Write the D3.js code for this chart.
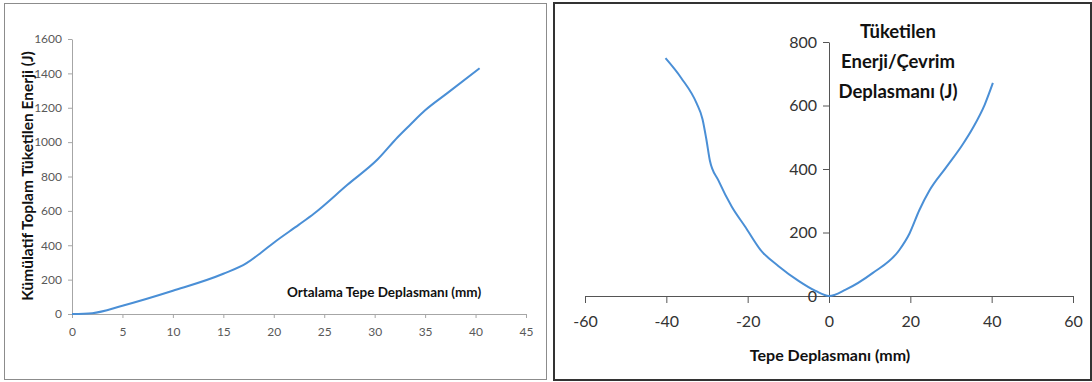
<!DOCTYPE html>
<html>
<head>
<meta charset="utf-8">
<script src="https://cdn.jsdelivr.net/npm/d3@7"></script>
<style>
  body { margin: 0; background: #fff; }
  svg { display: block; }
  text { font-family: Lato, "Open Sans", sans-serif; }
</style>
</head>
<body>
<div id="chart"></div>
<script>
// cumulative dissipated energy vs. average top displacement (left panel)
const avgDisp = [0, 2, 5, 10, 15, 17.3, 18.7, 20, 22.5, 24, 27.3, 30.3, 32.3, 33.5, 35, 37.2, 40.4];
const cumEnergy = [0, 5, 48, 135, 234, 296, 355, 415, 520, 585, 752, 900, 1030, 1100, 1185, 1285, 1430];

// energy per cycle vs. top displacement (right panel)
const topDisp = [-40.2, -36.3, -32.6, -31.1, -30.1, -29.3, -27.2, -23.9, -20.6, -16.9, -12.4, -7.4, -3.3, 0,
  4.1, 10.7, 17.3, 19.8, 22.2, 24.7, 28.8, 32.9, 35.4, 38.3, 40.3];
const cycleEnergy = [749, 686, 608, 557, 489, 427, 364, 281, 218, 146, 94, 47, 16, 0,
  20, 72, 145, 197, 270, 332, 405, 478, 530, 603, 671];

const leftXTicks = [0, 5, 10, 15, 20, 25, 30, 35, 40, 45];
const leftYTicks = [0, 200, 400, 600, 800, 1000, 1200, 1400, 1600];
const rightXTicks = [-60, -40, -20, 0, 20, 40, 60];
const rightYTicks = [0, 200, 400, 600, 800];

const lineColor = '#4a8fd6';
const plain = d => String(d);

const svg = d3.select('#chart')
  .append('svg')
  .attr('width', 1092)
  .attr('height', 382);

// ---------- left panel ----------
svg.append('rect')
  .attr('x', 4.5).attr('y', 3.5)
  .attr('width', 542).attr('height', 376)
  .attr('fill', '#fff')
  .attr('stroke', '#8c8c8c');

const xL = d3.scaleLinear().domain([0, 45]).range([72, 526]);
const yL = d3.scaleLinear().domain([0, 1600]).range([314, 39]);

const gxL = svg.append('g')
  .attr('transform', `translate(0,${yL(0)})`)
  .call(d3.axisBottom(xL).tickValues(leftXTicks).tickFormat(plain)
    .tickSizeInner(4).tickSizeOuter(0).tickPadding(9));
const gyL = svg.append('g')
  .attr('transform', `translate(${xL(0)},0)`)
  .call(d3.axisLeft(yL).tickValues(leftYTicks).tickFormat(plain)
    .tickSizeInner(4).tickSizeOuter(0).tickPadding(6));

[gxL, gyL].forEach(g => {
  g.select('.domain').attr('stroke', '#a6a6a6');
  g.selectAll('.tick line').attr('stroke', '#a6a6a6');
  g.selectAll('.tick text').attr('fill', '#595959').style('font-size', '12px');
});

svg.append('path')
  .datum(avgDisp.map((d, i) => [d, cumEnergy[i]]))
  .attr('fill', 'none')
  .attr('stroke', lineColor)
  .attr('stroke-width', 2)
  .attr('d', d3.line().x(d => xL(d[0])).y(d => yL(d[1])).curve(d3.curveMonotoneX));

svg.append('text')
  .attr('transform', 'translate(33,176) rotate(-90)')
  .attr('text-anchor', 'middle')
  .style('font-size', '15.5px')
  .style('font-weight', 'bold')
  .attr('fill', '#111')
  .text('Kümülatif Toplam  Tüketilen Enerji (J)');

svg.append('text')
  .attr('x', 384).attr('y', 297)
  .attr('text-anchor', 'middle')
  .style('font-size', '13.5px')
  .style('font-weight', 'bold')
  .attr('fill', '#111')
  .text('Ortalama Tepe Deplasmanı (mm)');

// ---------- right panel ----------
svg.append('rect')
  .attr('x', 554).attr('y', 3)
  .attr('width', 537).attr('height', 377)
  .attr('fill', '#fff')
  .attr('stroke', '#333')
  .attr('stroke-width', 2);

const xR = d3.scaleLinear().domain([-60, 60]).range([585, 1073]);
const yR = d3.scaleLinear().domain([0, 800]).range([296, 42]);

const gxR = svg.append('g')
  .attr('transform', `translate(0,${yR(0)})`)
  .call(d3.axisBottom(xR).tickValues(rightXTicks).tickFormat(plain)
    .tickSizeInner(7).tickSizeOuter(0).tickPadding(13));
const gyR = svg.append('g')
  .attr('transform', `translate(${xR(0)},0)`)
  .call(d3.axisLeft(yR).tickValues(rightYTicks).tickFormat(plain)
    .tickSizeInner(6).tickSizeOuter(0).tickPadding(6));

[gxR, gyR].forEach(g => {
  g.select('.domain').attr('stroke', '#555');
  g.selectAll('.tick line').attr('stroke', '#555');
  g.selectAll('.tick text').attr('fill', '#333').style('font-size', '16px');
});

svg.append('path')
  .datum(topDisp.map((d, i) => [d, cycleEnergy[i]]))
  .attr('fill', 'none')
  .attr('stroke', lineColor)
  .attr('stroke-width', 2)
  .attr('d', d3.line().x(d => xR(d[0])).y(d => yR(d[1])).curve(d3.curveMonotoneX));

const titleLines = ['Tüketilen', 'Enerji/Çevrim', 'Deplasmanı (J)'];
svg.append('g')
  .selectAll('text')
  .data(titleLines)
  .join('text')
  .attr('x', 898)
  .attr('y', (d, i) => 38 + i * 30)
  .attr('text-anchor', 'middle')
  .style('font-size', '18.5px')
  .style('font-weight', 'bold')
  .attr('fill', '#111')
  .text(d => d);

svg.append('text')
  .attr('x', 830).attr('y', 361)
  .attr('text-anchor', 'middle')
  .style('font-size', '16px')
  .style('font-weight', 'bold')
  .attr('fill', '#111')
  .text('Tepe Deplasmanı (mm)');
</script>
</body>
</html>
